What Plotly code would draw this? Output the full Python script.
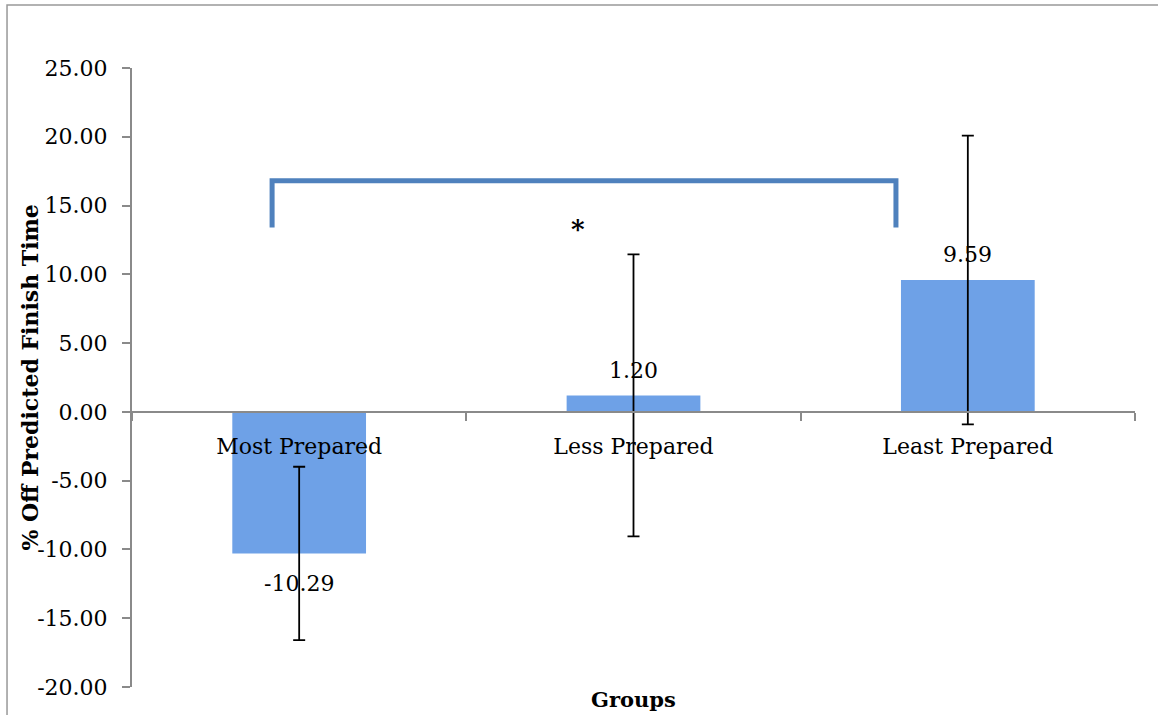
import plotly.graph_objects as go

categories = ["Most Prepared", "Less Prepared", "Least Prepared"]
means = [-10.29, 1.20, 9.59]
errors = [6.30, 10.25, 10.50]
label_texts = ["-10.29", "1.20", "9.59"]
y_tickvals = [-20, -15, -10, -5, 0, 5, 10, 15, 20, 25]
y_ticktext = ["-20.00", "-15.00", "-10.00", "-5.00", "0.00",
              "5.00", "10.00", "15.00", "20.00", "25.00"]

# significance bracket (data coords) and star
bracket_x = [-0.081, 1.785]
bracket_y_top = 16.8
bracket_y_end = 13.4
star_x = 0.834
star_y = 13.3

FONT = "DejaVu Serif"
AXIS_GRAY = "#8a8a8a"

fig = go.Figure()
fig.add_trace(go.Bar(
    x=categories, y=means, width=0.4,
    marker=dict(color="#6ea1e7", line=dict(width=0)),
    error_y=dict(type="data", array=errors, visible=True,
                 color="black", thickness=1.8, width=6),
    showlegend=False, hoverinfo="skip",
))

annotations = []
for c, v, t in zip(categories, means, label_texts):
    annotations.append(dict(
        x=c, y=v, xref="x", yref="y", text=t, showarrow=False,
        yanchor="middle", yshift=25 if v >= 0 else -30,
        font=dict(family=FONT, size=22, color="black"),
    ))
annotations.append(dict(
    x=star_x, y=star_y, xref="x", yref="y", text="<b>*</b>", showarrow=False,
    font=dict(family=FONT, size=26, color="black"),
))
annotations.append(dict(
    x=0.5, y=-0.021, xref="paper", yref="paper", text="<b>Groups</b>",
    showarrow=False, yanchor="middle",
    font=dict(family=FONT, size=21, color="black"),
))
annotations.append(dict(
    x=-0.1017, y=0.5, xref="paper", yref="paper",
    text="<b>% Off Predicted Finish Time</b>", textangle=-90,
    showarrow=False, xanchor="center", yanchor="middle",
    font=dict(family=FONT, size=22, color="black"),
))

shapes = [
    dict(type="path", xref="x", yref="y",
         path=f"M {bracket_x[0]} {bracket_y_end} L {bracket_x[0]} {bracket_y_top} "
              f"L {bracket_x[1]} {bracket_y_top} L {bracket_x[1]} {bracket_y_end}",
         line=dict(color="#4f81bd", width=5)),
    dict(type="rect", xref="paper", yref="paper",
         x0=-0.1246, x1=1.05, y0=-0.06, y1=1.1018,
         line=dict(color="#999999", width=1.5), layer="below"),
]

fig.update_layout(
    width=1158, height=715,
    margin=dict(l=132, r=23, t=68, b=28, autoexpand=False),
    paper_bgcolor="white", plot_bgcolor="white",
    font=dict(family=FONT, size=22, color="black"),
    annotations=annotations, shapes=shapes,
    bargap=0.6,
)
fig.update_xaxes(
    type="category", range=[-0.5, 2.5],
    anchor="free", position=20 / 45, automargin=False,
    showline=True, linecolor=AXIS_GRAY, linewidth=2,
    ticks="outside", tickson="boundaries", ticklen=8, tickcolor=AXIS_GRAY, tickwidth=2,
    showgrid=False, zeroline=False,
    ticklabelstandoff=15,
    tickfont=dict(family=FONT, size=22, color="black"),
)
fig.update_yaxes(
    range=[-20, 25], tickvals=y_tickvals, ticktext=y_ticktext, automargin=False,
    showline=True, linecolor=AXIS_GRAY, linewidth=2,
    ticks="outside", ticklen=8, tickcolor=AXIS_GRAY, tickwidth=2,
    showgrid=False, zeroline=False,
    ticklabelstandoff=10,
    tickfont=dict(family=FONT, size=22, color="black"),
)

fig.write_html(
    "out.html",
    config={"displayModeBar": False},
    post_script="document.body.style.margin='0px';document.body.style.overflow='hidden';",
)
